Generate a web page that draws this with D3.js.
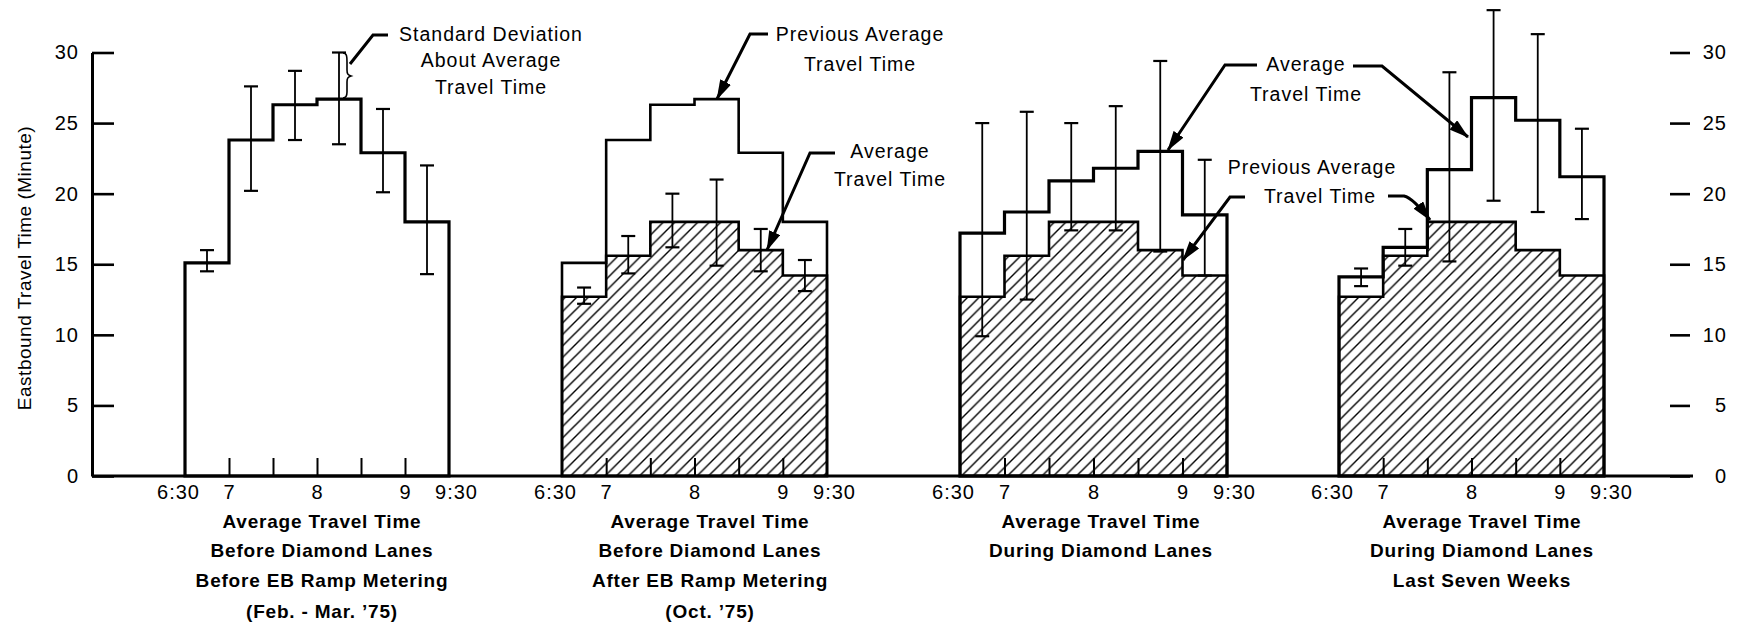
<!DOCTYPE html>
<html><head><meta charset="utf-8">
<script src="https://cdn.jsdelivr.net/npm/d3@7"></script>
<style>
body{margin:0;background:#fff;}
svg{display:block;font-family:"Liberation Sans",Arial,Helvetica,sans-serif;}
</style></head><body>
<svg id="chart" width="1737" height="629"></svg>
<script>
// ---------------- DATA ----------------
const binStarts = ["6:30","7:00","7:30","8:00","8:30","9:00"];
const xTickLabels = ["6:30","7","","8","","9","9:30"];
const yTicks = [0,5,10,15,20,25,30];
const yTitle = "Eastbound Travel Time (Minute)";

// Panel 1: before diamond lanes, before EB ramp metering (Feb.-Mar. '75)
const p1Avg    = [15.1, 23.8, 26.3, 26.7, 22.9, 18.0];
const p1SdLow  = [14.5, 20.2, 23.8, 23.5, 20.1, 14.3];
const p1SdHigh = [16.0, 27.6, 28.7, 30.0, 26.0, 22.0];

// Panel 2: before diamond lanes, after EB ramp metering (Oct. '75)
const p2Avg    = [12.7, 15.6, 18.0, 18.0, 16.0, 14.2];
const p2SdLow  = [12.2, 14.35, 16.2, 14.9, 14.5, 13.1];
const p2SdHigh = [13.35, 17.0, 20.0, 21.0, 17.5, 15.3];

// Panel 3: during diamond lanes
const p3Avg    = [17.2, 18.7, 20.9, 21.8, 23.0, 18.5];
const p3SdLow  = [9.9, 12.5, 17.4, 17.4, 15.9, 14.2];
const p3SdHigh = [25.0, 25.8, 25.0, 26.2, 29.4, 22.4];

// Panel 4: during diamond lanes, last seven weeks
const p4Avg    = [14.1, 16.2, 21.7, 26.8, 25.2, 21.2];
const p4SdLow  = [13.45, 14.9, 15.2, 19.5, 18.7, 18.2];
const p4SdHigh = [14.7, 17.5, 28.6, 33.0, 31.3, 24.6];

const panelTitles = [
  ["Average Travel Time","Before Diamond Lanes","Before EB Ramp Metering","(Feb. - Mar. \u201975)"],
  ["Average Travel Time","Before Diamond Lanes","After EB Ramp Metering","(Oct. \u201975)"],
  ["Average Travel Time","During Diamond Lanes"],
  ["Average Travel Time","During Diamond Lanes","Last Seven Weeks"]
];

const notes = [
  {lines:["Standard Deviation","About Average","Travel Time"]},
  {lines:["Previous Average","Travel Time"]},
  {lines:["Average","Travel Time"]},
  {lines:["Average","Travel Time"]},
  {lines:["Previous Average","Travel Time"]}
];

// ---------------- LAYOUT ----------------
const svg = d3.select("#chart");
const panelRanges = [[185,449],[562,827],[960,1227],[1339,1604]];
const titleCenters = [322,710,1101,1482];
const titleBaselines = [528,557,587,618];
const y = d3.scaleLinear().domain([0,30]).range([476,52.5]);

const defs = svg.append("defs");
const pat = defs.append("pattern").attr("id","hatch")
  .attr("patternUnits","userSpaceOnUse").attr("width",11.5).attr("height",11.5);
pat.append("path").attr("d","M-2,2 L2,-2 M0,11.5 L11.5,0 M9.5,13.5 L13.5,9.5")
  .attr("stroke","#000").attr("stroke-width",1.4).attr("fill","none");
defs.append("marker").attr("id","arrow").attr("markerUnits","userSpaceOnUse")
  .attr("viewBox","0 0 20 12").attr("markerWidth",20).attr("markerHeight",12)
  .attr("refX",19).attr("refY",6).attr("orient","auto")
  .append("path").attr("d","M0,0 L20,6 L0,12 Z").attr("fill","#000");

const panels = [
  {outline:p1Avg, hatch:null,  lo:p1SdLow, hi:p1SdHigh, ow:3.2},
  {outline:p1Avg, hatch:p2Avg, lo:p2SdLow, hi:p2SdHigh, ow:2.6},
  {outline:p3Avg, hatch:p2Avg, lo:p3SdLow, hi:p3SdHigh, ow:3.2},
  {outline:p4Avg, hatch:p2Avg, lo:p4SdLow, hi:p4SdHigh, ow:3.2}
];

function stepPath(xs, vals){
  const pts = vals.concat([vals[vals.length-1]]);
  return d3.area().x((d,i)=>xs(i)).y0(y(0)).y1(d=>y(d)).curve(d3.curveStepAfter)(pts);
}

panels.forEach((p,k)=>{
  const xs = d3.scaleLinear().domain([0,binStarts.length]).range(panelRanges[k]);
  const g = svg.append("g");
  g.append("path").attr("d",stepPath(xs,p.outline))
    .attr("fill","#fff").attr("stroke","#000").attr("stroke-width",p.ow)
    .attr("stroke-linejoin","miter");
  if(p.hatch){
    g.append("path").attr("d",stepPath(xs,p.hatch))
      .attr("fill","url(#hatch)").attr("stroke","#000").attr("stroke-width",2.6);
  }
  // x axis ticks & labels
  const ax = d3.axisBottom(xs).tickValues(d3.range(7))
    .tickFormat(i=>xTickLabels[i]).tickSizeInner(-18).tickSizeOuter(0).tickPadding(9);
  const axg = g.append("g").attr("transform",`translate(0,${y(0)})`).call(ax)
    .attr("font-size",20).attr("font-family",null);
  axg.select(".domain").remove();
  axg.selectAll(".tick line").attr("stroke-width",2)
    .filter(d=>d===0||d===6).remove();
  axg.selectAll(".tick text").attr("fill","#000").attr("letter-spacing",1)
    .attr("dx",d=>d===0?-7:(d===6?7:0));
  // error bars
  const eb = g.append("g").attr("stroke","#000");
  p.lo.forEach((lo,i)=>{
    const cx = xs(i+0.5), hi = p.hi[i];
    eb.append("line").attr("x1",cx).attr("x2",cx).attr("y1",y(lo)).attr("y2",y(hi)).attr("stroke-width",1.8);
    [lo,hi].forEach(v=>eb.append("line").attr("x1",cx-7).attr("x2",cx+7)
      .attr("y1",y(v)).attr("y2",y(v)).attr("stroke-width",2.2));
  });
  // panel titles
  const t = svg.append("text").attr("text-anchor","middle").attr("font-weight","bold")
    .attr("font-size",19).attr("letter-spacing",0.8);
  panelTitles[k].forEach((s,j)=>t.append("tspan").attr("x",titleCenters[k]).attr("y",titleBaselines[j]).text(s));
});

// baseline
svg.append("line").attr("x1",92).attr("x2",1693).attr("y1",y(0)).attr("y2",y(0))
  .attr("stroke","#000").attr("stroke-width",3);

// left axis
const la = svg.append("g").attr("transform","translate(92,0)")
  .call(d3.axisLeft(y).tickValues(yTicks).tickSizeInner(-22).tickSizeOuter(0).tickPadding(13))
  .attr("font-size",20).attr("font-family",null);
la.select(".domain").attr("stroke-width",3);
la.selectAll(".tick line").attr("stroke-width",2.6);
la.selectAll(".tick text").attr("fill","#000").attr("letter-spacing",1);

// right axis
const ra = svg.append("g").attr("transform","translate(1670,0)")
  .call(d3.axisRight(y).tickValues(yTicks).tickSizeInner(20).tickSizeOuter(0).tickPadding(12))
  .attr("font-size",20).attr("font-family",null);
ra.select(".domain").remove();
ra.selectAll(".tick line").attr("stroke-width",2.6);
ra.selectAll(".tick text").attr("fill","#000").attr("letter-spacing",1)
  .attr("text-anchor","end").attr("x",57);

// y title
svg.append("text").attr("transform","translate(24,268) rotate(-90)")
  .attr("text-anchor","middle").attr("dominant-baseline","central")
  .attr("font-size",19).attr("letter-spacing",0.5).text(yTitle);

// annotations
const noteLayout = [
  {x:491, ys:[41,67,94]},
  {x:860, ys:[41,71]},
  {x:890, ys:[158,186]},
  {x:1306, ys:[71,101]},
  {x:1314, ys:[174,203], xs:[1312,1320]}
];
notes.forEach((n,k)=>{
  const L = noteLayout[k];
  const t = svg.append("text").attr("text-anchor","middle").attr("font-size",19.5).attr("letter-spacing",1);
  n.lines.forEach((s,j)=>t.append("tspan").attr("x",L.xs?L.xs[j]:L.x).attr("y",L.ys[j]).text(s));
});

const leaders = [
  {d:"M388,35 L373,35 L350,64", arrow:false},
  {d:"M768,34 L750,34 L717,99", arrow:true},
  {d:"M835,153 L810,153 L767,250", arrow:true},
  {d:"M1257,65 L1225,65 L1168,150", arrow:true},
  {d:"M1353,66 L1382,66 L1468,137", arrow:true},
  {d:"M1245,197 L1230,197 L1183,260", arrow:true},
  {d:"M1388,196 L1404,196 Q1413,198 1430,220", arrow:true}
];
leaders.forEach(l=>{
  svg.append("path").attr("d",l.d).attr("fill","none").attr("stroke","#000")
    .attr("stroke-width",3).attr("marker-end",l.arrow?"url(#arrow)":null);
});
// brace on the standard deviation
svg.append("path")
  .attr("d","M343,53 C347,53 347,57 347,62 L347,70 C347,74 348,75 351,76 C348,77 347,78 347,82 L347,92 C347,96 346,98 343,98")
  .attr("fill","none").attr("stroke","#000").attr("stroke-width",1.6);
</script>
</body></html>
